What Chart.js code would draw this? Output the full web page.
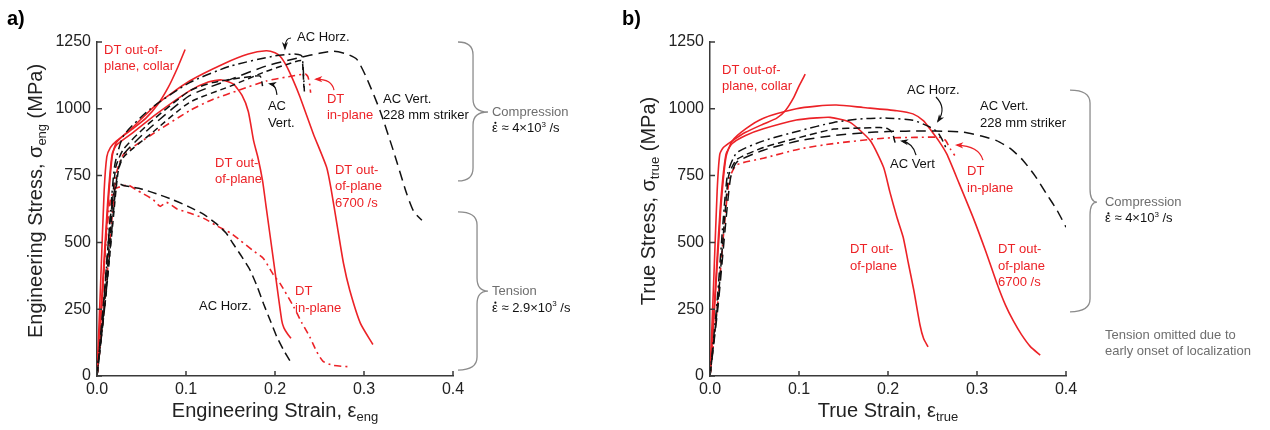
<!DOCTYPE html>
<html lang="en">
<head>
<meta charset="UTF-8">
<title>Stress-strain curves</title>
<script src="https://cdn.jsdelivr.net/npm/chart.js"></script>
<style>
  html, body { margin: 0; padding: 0; background: #fff; }
  #wrap { position: relative; width: 1270px; height: 430px; }
  #engBox { position: absolute; left: 0; top: 0; }
  #trueBox { position: absolute; left: 600px; top: 0; }
</style>
</head>
<body>
<div id="wrap">
  <div id="engBox"><canvas id="engChart" width="600" height="430"></canvas></div>
  <div id="trueBox"><canvas id="trueChart" width="670" height="430"></canvas></div>
</div>
<script>
// ---- a) engineering stress-strain (compression + tension) ----
const engStrainCollar = [0, 0.004, 0.008, 0.011, 0.015, 0.022, 0.04, 0.055, 0.068, 0.08, 0.09, 0.099];
const engStressCollar = [0, 340, 690, 820, 855, 880, 925, 965, 1015, 1080, 1150, 1222];

const engStrain6700 = [0, 0.006, 0.012, 0.017, 0.022, 0.04, 0.067, 0.104, 0.142, 0.17, 0.19, 0.2, 0.206, 0.213, 0.22, 0.228, 0.243, 0.258, 0.263, 0.27, 0.277, 0.284, 0.296, 0.31];
const engStress6700 = [0, 300, 620, 820, 875, 930, 1017, 1104, 1168, 1205, 1217, 1210, 1196, 1160, 1110, 1045, 907, 781, 700, 560, 421, 321, 197, 118];

const engStrainOop = [0, 0.006, 0.012, 0.017, 0.022, 0.04, 0.067, 0.104, 0.125, 0.14, 0.153, 0.163, 0.17, 0.176, 0.181, 0.186, 0.19, 0.198, 0.2075, 0.21, 0.214, 0.218];
const engStressOop = [0, 330, 650, 830, 865, 910, 981, 1067, 1100, 1108, 1093, 1050, 990, 880, 815, 731, 634, 440, 209, 180, 158, 141];

const engStrainHorz = [0, 0.008, 0.015, 0.02, 0.03, 0.06, 0.104, 0.15, 0.2, 0.222, 0.23, 0.2315, 0.2325, 0.233];
const engStressHorz = [0, 290, 600, 790, 900, 1000, 1098, 1160, 1198, 1205, 1198, 1160, 1100, 1065];

const engStrainVert = [0, 0.009, 0.016, 0.021, 0.03, 0.06, 0.104, 0.13, 0.16, 0.183, 0.185, 0.186];
const engStressVert = [0, 290, 580, 780, 850, 950, 1067, 1098, 1115, 1123, 1105, 1085];

const engStrainVert228 = [0, 0.009, 0.017, 0.023, 0.03, 0.06, 0.104, 0.15, 0.19, 0.228, 0.25, 0.266, 0.28, 0.292, 0.303, 0.318, 0.333, 0.348, 0.356, 0.365];
const engStressVert228 = [0, 270, 560, 760, 830, 930, 1049, 1110, 1160, 1192, 1208, 1215, 1206, 1185, 1115, 993, 843, 682, 615, 583];

const engStrainHorz2 = [0, 0.01, 0.018, 0.024, 0.03, 0.06, 0.104, 0.15, 0.19, 0.215, 0.23, 0.2315, 0.2325];
const engStressHorz2 = [0, 300, 580, 770, 820, 905, 1024, 1085, 1140, 1168, 1180, 1140, 1080];

const engStrainInPlane = [0, 0.008, 0.016, 0.022, 0.03, 0.06, 0.104, 0.13, 0.16, 0.19, 0.215, 0.234, 0.237, 0.239, 0.24];
const engStressInPlane = [0, 250, 560, 760, 830, 900, 993, 1035, 1070, 1104, 1120, 1130, 1120, 1090, 1060];

const engStrainTenHorz = [0, 0.008, 0.015, 0.02, 0.025, 0.03, 0.05, 0.067, 0.085, 0.104, 0.12, 0.134, 0.145, 0.153, 0.163, 0.172, 0.18, 0.187, 0.195, 0.202, 0.21, 0.218];
const engStressTenHorz = [0, 300, 590, 700, 718, 713, 700, 682, 660, 632, 605, 570, 535, 495, 445, 396, 335, 271, 205, 147, 95, 50];

const engStrainTenInPlane = [0, 0.005, 0.01, 0.015, 0.02, 0.028, 0.035, 0.045, 0.052, 0.063, 0.071, 0.078, 0.09, 0.104, 0.12, 0.134, 0.15, 0.161, 0.175, 0.187, 0.198, 0.206, 0.221, 0.23, 0.239, 0.247, 0.254, 0.265, 0.282];
const engStressTenInPlane = [0, 250, 500, 660, 700, 710, 715, 695, 682, 660, 635, 650, 625, 610, 590, 563, 535, 507, 470, 440, 380, 345, 259, 200, 147, 90, 55, 40, 35];

// ---- b) true stress-strain (compression only) ----
const trueStrainCollar = [0, 0.004, 0.008, 0.011, 0.015, 0.025, 0.04, 0.06, 0.075, 0.085, 0.094, 0.1, 0.107];
const trueStressCollar = [0, 340, 690, 830, 855, 880, 912, 943, 965, 995, 1042, 1085, 1130];

const trueStrain6700 = [0, 0.006, 0.012, 0.018, 0.025, 0.04, 0.06, 0.097, 0.12, 0.142, 0.172, 0.21, 0.228, 0.24, 0.247, 0.257, 0.266, 0.28, 0.296, 0.31, 0.322, 0.332, 0.341, 0.35, 0.36, 0.371];
const trueStress6700 = [0, 300, 620, 820, 880, 925, 965, 1000, 1010, 1014, 1005, 993, 981, 955, 925, 880, 831, 720, 590, 465, 350, 265, 205, 155, 110, 78];

const trueStrainOop = [0, 0.006, 0.012, 0.018, 0.025, 0.04, 0.06, 0.097, 0.12, 0.135, 0.157, 0.18, 0.195, 0.202, 0.21, 0.217, 0.223, 0.229, 0.236, 0.24, 0.245];
const trueStressOop = [0, 330, 650, 830, 870, 900, 925, 958, 966, 968, 950, 881, 781, 690, 594, 520, 420, 321, 190, 140, 109];

const trueStrainHorz = [0, 0.008, 0.015, 0.02, 0.03, 0.06, 0.101, 0.139, 0.172, 0.2, 0.228, 0.245, 0.255, 0.26, 0.265];
const trueStressHorz = [0, 280, 590, 760, 835, 880, 918, 949, 963, 965, 957, 935, 915, 890, 855];

const trueStrainVert = [0, 0.009, 0.016, 0.021, 0.03, 0.06, 0.101, 0.139, 0.17, 0.191, 0.2, 0.205, 0.207, 0.209];
const trueStressVert = [0, 280, 570, 750, 810, 855, 893, 924, 928, 930, 925, 910, 885, 862];

const trueStrainVert228 = [0, 0.009, 0.017, 0.023, 0.03, 0.06, 0.101, 0.139, 0.172, 0.2, 0.24, 0.266, 0.285, 0.305, 0.322, 0.338, 0.352, 0.365, 0.378, 0.39, 0.4];
const trueStressVert228 = [0, 260, 550, 740, 800, 845, 881, 900, 910, 915, 917, 916, 912, 898, 881, 850, 806, 750, 682, 620, 557];

const trueStrainInPlane = [0, 0.008, 0.016, 0.022, 0.03, 0.06, 0.101, 0.139, 0.195, 0.23, 0.26, 0.265, 0.27, 0.275];
const trueStressInPlane = [0, 250, 560, 740, 790, 815, 850, 870, 890, 893, 893, 880, 850, 825];

// axis ticks
const strainTicks = [0, 0.1, 0.2, 0.3, 0.4];
const stressTicks = [0, 250, 500, 750, 1000, 1250];

const FONT = 'Arial, "Liberation Sans", sans-serif';
const RED = 'rgb(236,34,39)';
const INK = '#111';
const AXIS = '#3a3a3a';
const GREY_TXT = '#6e6e6e';
const GREY_LINE = '#8c8c8c';

Chart.defaults.font.family = FONT;

const DASH_DOT = [9, 4, 2, 4];
const DASHED = [7, 4];
const LONG_DASH = [10, 6];
const RED_DASH_DOT = [7, 4, 2, 4];

function pts(xs, ys) {
  return xs.map((x, i) => ({ x: x, y: ys[i] }));
}

function line(xs, ys, color, dash) {
  return {
    data: pts(xs, ys),
    showLine: true,
    borderColor: color,
    borderWidth: color === RED ? 1.6 : 1.5,
    borderDash: dash,
    pointRadius: 0,
    tension: 0.2,
    fill: false
  };
}

const engDatasets = [
  line(engStrainTenHorz, engStressTenHorz, INK, [9, 5]),
  line(engStrainTenInPlane, engStressTenInPlane, RED, RED_DASH_DOT),
  line(engStrainHorz, engStressHorz, INK, DASH_DOT),
  line(engStrainVert, engStressVert, INK, DASHED),
  line(engStrainHorz2, engStressHorz2, INK, [6, 4]),
  line(engStrainVert228, engStressVert228, INK, LONG_DASH),
  line(engStrainInPlane, engStressInPlane, RED, RED_DASH_DOT),
  line(engStrainOop, engStressOop, RED, []),
  line(engStrain6700, engStress6700, RED, []),
  line(engStrainCollar, engStressCollar, RED, [])
];

const trueDatasets = [
  line(trueStrainHorz, trueStressHorz, INK, DASH_DOT),
  line(trueStrainVert, trueStressVert, INK, DASHED),
  line(trueStrainVert228, trueStressVert228, INK, LONG_DASH),
  line(trueStrainInPlane, trueStressInPlane, RED, RED_DASH_DOT),
  line(trueStrainOop, trueStressOop, RED, []),
  line(trueStrain6700, trueStress6700, RED, []),
  line(trueStrainCollar, trueStressCollar, RED, [])
];

// rich text: parts with optional sub / sup / dot
function partSize(p, size) { return (p.sub || p.sup) ? Math.round(size * 0.65) : size; }
function richWidth(ctx, parts, size) {
  let w = 0;
  parts.forEach(p => { ctx.font = partSize(p, size) + 'px ' + FONT; w += ctx.measureText(p.t).width; });
  return w;
}
function drawRich(ctx, parts, x, y, size, align) {
  let cx = align === 'center' ? x - richWidth(ctx, parts, size) / 2 : x;
  ctx.textAlign = 'left';
  ctx.textBaseline = 'middle';
  parts.forEach(p => {
    ctx.font = partSize(p, size) + 'px ' + FONT;
    const dy = p.sub ? size * 0.32 : (p.sup ? -size * 0.3 : 0);
    ctx.fillText(p.t, cx, y + dy);
    const w = ctx.measureText(p.t).width;
    if (p.dot) {
      ctx.beginPath();
      ctx.arc(cx + w / 2 + 0.5, y - size * 0.42, 1.1, 0, Math.PI * 2);
      ctx.fill();
    }
    cx += w;
  });
}

function makeDecor(spec) {
  return {
    id: 'decor',
    afterDraw(chart) {
      const ctx = chart.ctx;
      const xs = chart.scales.x, ys = chart.scales.y, area = chart.chartArea;
      const px = v => xs.getPixelForValue(v);
      const py = v => ys.getPixelForValue(v);
      ctx.save();

      // inward tick marks
      ctx.strokeStyle = AXIS;
      ctx.lineWidth = 1.5;
      ctx.setLineDash([]);
      ctx.beginPath();
      xs.ticks.forEach(t => { const x = px(t.value); ctx.moveTo(x, area.bottom); ctx.lineTo(x, area.bottom - 5); });
      ys.ticks.forEach(t => { const y = py(t.value); ctx.moveTo(area.left, y); ctx.lineTo(area.left + 5, y); });
      ctx.stroke();

      // axis titles
      ctx.fillStyle = '#222';
      drawRich(ctx, spec.xTitle, (area.left + area.right) / 2, area.bottom + 35, 20, 'center');
      ctx.save();
      ctx.translate(area.left - 61, (area.top + area.bottom) / 2 - 8);
      ctx.rotate(-Math.PI / 2);
      drawRich(ctx, spec.yTitle, 0, 0, 20, 'center');
      ctx.restore();

      // panel letter
      ctx.font = 'bold 20px ' + FONT;
      ctx.textAlign = 'left';
      ctx.textBaseline = 'middle';
      ctx.fillStyle = '#000';
      ctx.fillText(spec.panel, spec.panelX, 19);

      // labels
      spec.labels.forEach(lb => {
        ctx.fillStyle = lb.color;
        const x = px(lb.x), y0 = py(lb.y);
        if (lb.rich) {
          drawRich(ctx, lb.rich, x, y0, 13, 'left');
        } else {
          ctx.font = '13px ' + FONT;
          ctx.textAlign = 'left';
          ctx.textBaseline = 'middle';
          lb.lines.forEach((s, i) => ctx.fillText(s, x, y0 + i * 16.5));
        }
      });

      // arrows
      spec.arrows.forEach(a => {
        const sx = px(a.from[0]), sy = py(a.from[1]);
        const cx = px(a.ctrl[0]), cy = py(a.ctrl[1]);
        const tx = px(a.to[0]), ty = py(a.to[1]);
        ctx.strokeStyle = a.color;
        ctx.fillStyle = a.color;
        ctx.lineWidth = 1.2;
        ctx.beginPath();
        ctx.moveTo(sx, sy);
        ctx.quadraticCurveTo(cx, cy, tx, ty);
        ctx.stroke();
        const ang = Math.atan2(ty - cy, tx - cx);
        ctx.beginPath();
        ctx.moveTo(tx + Math.cos(ang) * 2, ty + Math.sin(ang) * 2);
        ctx.lineTo(tx - Math.cos(ang - 0.45) * 7, ty - Math.sin(ang - 0.45) * 7);
        ctx.lineTo(tx - Math.cos(ang) * 4, ty - Math.sin(ang) * 4);
        ctx.lineTo(tx - Math.cos(ang + 0.45) * 7, ty - Math.sin(ang + 0.45) * 7);
        ctx.closePath();
        ctx.fill();
      });

      // curly braces
      ctx.strokeStyle = GREY_LINE;
      ctx.lineWidth = 1.3;
      spec.braces.forEach(b => {
        const x0 = px(b.x0), xv = px(b.xv), xt = px(b.xt);
        const top = py(b.top), mid = py(b.mid), bot = py(b.bottom);
        const r = 13;
        ctx.beginPath();
        ctx.moveTo(x0, top);
        ctx.quadraticCurveTo(xv, top, xv, top + r);
        ctx.lineTo(xv, mid - r);
        ctx.quadraticCurveTo(xv, mid, xt, mid);
        ctx.quadraticCurveTo(xv, mid, xv, mid + r);
        ctx.lineTo(xv, bot - r);
        ctx.quadraticCurveTo(xv, bot, x0, bot);
        ctx.stroke();
      });

      ctx.restore();
    }
  };
}

const rate4 = [{ t: 'ε', dot: true }, { t: ' ≈ 4×10' }, { t: '3', sup: true }, { t: ' /s' }];
const rate29 = [{ t: 'ε', dot: true }, { t: ' ≈ 2.9×10' }, { t: '3', sup: true }, { t: ' /s' }];

const engDecor = {
  panel: 'a)', panelX: 7,
  xTitle: [{ t: 'Engineering Strain, ε' }, { t: 'eng', sub: true }],
  yTitle: [{ t: 'Engineering Stress, σ' }, { t: 'eng', sub: true }, { t: ' (MPa)' }],
  labels: [
    { x: 0.0079, y: 1220, color: RED, lines: ['DT out-of-', 'plane, collar'] },
    { x: 0.2247, y: 1269, color: INK, lines: ['AC Horz.'] },
    { x: 0.192, y: 1008, color: INK, lines: ['AC', 'Vert.'] },
    { x: 0.2584, y: 1036, color: RED, lines: ['DT', 'in-plane'] },
    { x: 0.3213, y: 1036, color: INK, lines: ['AC Vert.', '228 mm striker'] },
    { x: 0.1326, y: 796, color: RED, lines: ['DT out-', 'of-plane'] },
    { x: 0.2674, y: 771, color: RED, lines: ['DT out-', 'of-plane', '6700 /s'] },
    { x: 0.1146, y: 262, color: INK, lines: ['AC Horz.'] },
    { x: 0.2225, y: 315, color: RED, lines: ['DT', 'in-plane'] },
    { x: 0.4438, y: 988, color: GREY_TXT, lines: ['Compression'] },
    { x: 0.4438, y: 927, color: INK, rich: rate4 },
    { x: 0.4438, y: 318, color: GREY_TXT, lines: ['Tension'] },
    { x: 0.4438, y: 254, color: INK, rich: rate29 }
  ],
  arrows: [
    { from: [0.218, 1265], ctrl: [0.2112, 1265], to: [0.2112, 1226], color: INK },
    { from: [0.2022, 1052], ctrl: [0.2011, 1089], to: [0.1944, 1093], color: INK },
    { from: [0.2663, 1070], ctrl: [0.264, 1111], to: [0.2461, 1111], color: RED }
  ],
  braces: [
    { x0: 0.4056, xv: 0.4225, xt: 0.4393, top: 1250, mid: 988, bottom: 730 },
    { x0: 0.4056, xv: 0.427, xt: 0.4393, top: 614, mid: 318, bottom: 22 }
  ]
};

const trueDecor = {
  panel: 'b)', panelX: 22,
  xTitle: [{ t: 'True Strain, ε' }, { t: 'true', sub: true }],
  yTitle: [{ t: 'True Stress, σ' }, { t: 'true', sub: true }, { t: ' (MPa)' }],
  labels: [
    { x: 0.0135, y: 1145, color: RED, lines: ['DT out-of-', 'plane, collar'] },
    { x: 0.2213, y: 1070, color: INK, lines: ['AC Horz.'] },
    { x: 0.3034, y: 1008, color: INK, lines: ['AC Vert.', '228 mm striker'] },
    { x: 0.2022, y: 790, color: INK, lines: ['AC Vert'] },
    { x: 0.2888, y: 765, color: RED, lines: ['DT', 'in-plane'] },
    { x: 0.1573, y: 472, color: RED, lines: ['DT out-', 'of-plane'] },
    { x: 0.3236, y: 472, color: RED, lines: ['DT out-', 'of-plane', '6700 /s'] },
    { x: 0.4438, y: 651, color: GREY_TXT, lines: ['Compression'] },
    { x: 0.4438, y: 588, color: INK, rich: rate4 },
    { x: 0.4438, y: 153, color: GREY_TXT, lines: ['Tension omitted due to', 'early onset of localization'] }
  ],
  arrows: [
    { from: [0.2539, 1044], ctrl: [0.2663, 1003], to: [0.2562, 954], color: INK },
    { from: [0.2315, 827], ctrl: [0.2281, 872], to: [0.2157, 879], color: INK },
    { from: [0.3067, 808], ctrl: [0.3022, 861], to: [0.2775, 864], color: RED }
  ],
  braces: [
    { x0: 0.4045, xv: 0.427, xt: 0.4348, top: 1070, mid: 651, bottom: 240 }
  ]
};

function makeOptions(yWidth, padRight) {
  return {
    responsive: false,
    animation: false,
    layout: { padding: { left: 0, right: padRight, top: 42, bottom: 0 } },
    plugins: { legend: { display: false }, tooltip: { enabled: false } },
    scales: {
      x: {
        type: 'linear', min: 0, max: 0.4,
        afterFit: s => { s.height = 54; },
        afterBuildTicks: s => { s.ticks = strainTicks.map(v => ({ value: v })); },
        grid: { display: false, drawTicks: false },
        border: { display: true, color: AXIS, width: 1.5 },
        ticks: { color: '#222', font: { size: 16 }, padding: 4, maxRotation: 0, autoSkip: false,
                 callback: v => v.toFixed(1) }
      },
      y: {
        type: 'linear', min: 0, max: 1250,
        afterFit: s => { s.width = yWidth; },
        afterBuildTicks: s => { s.ticks = stressTicks.map(v => ({ value: v })); },
        grid: { display: false, drawTicks: false },
        border: { display: true, color: AXIS, width: 1.5 },
        ticks: { color: '#222', font: { size: 16 }, padding: 6, autoSkip: false,
                 callback: v => String(v) }
      }
    }
  };
}

new Chart(document.getElementById('engChart'), {
  type: 'scatter',
  data: { datasets: engDatasets },
  options: makeOptions(97, 147),
  plugins: [makeDecor(engDecor)]
});

new Chart(document.getElementById('trueChart'), {
  type: 'scatter',
  data: { datasets: trueDatasets },
  options: makeOptions(110, 204),
  plugins: [makeDecor(trueDecor)]
});
</script>
</body>
</html>
